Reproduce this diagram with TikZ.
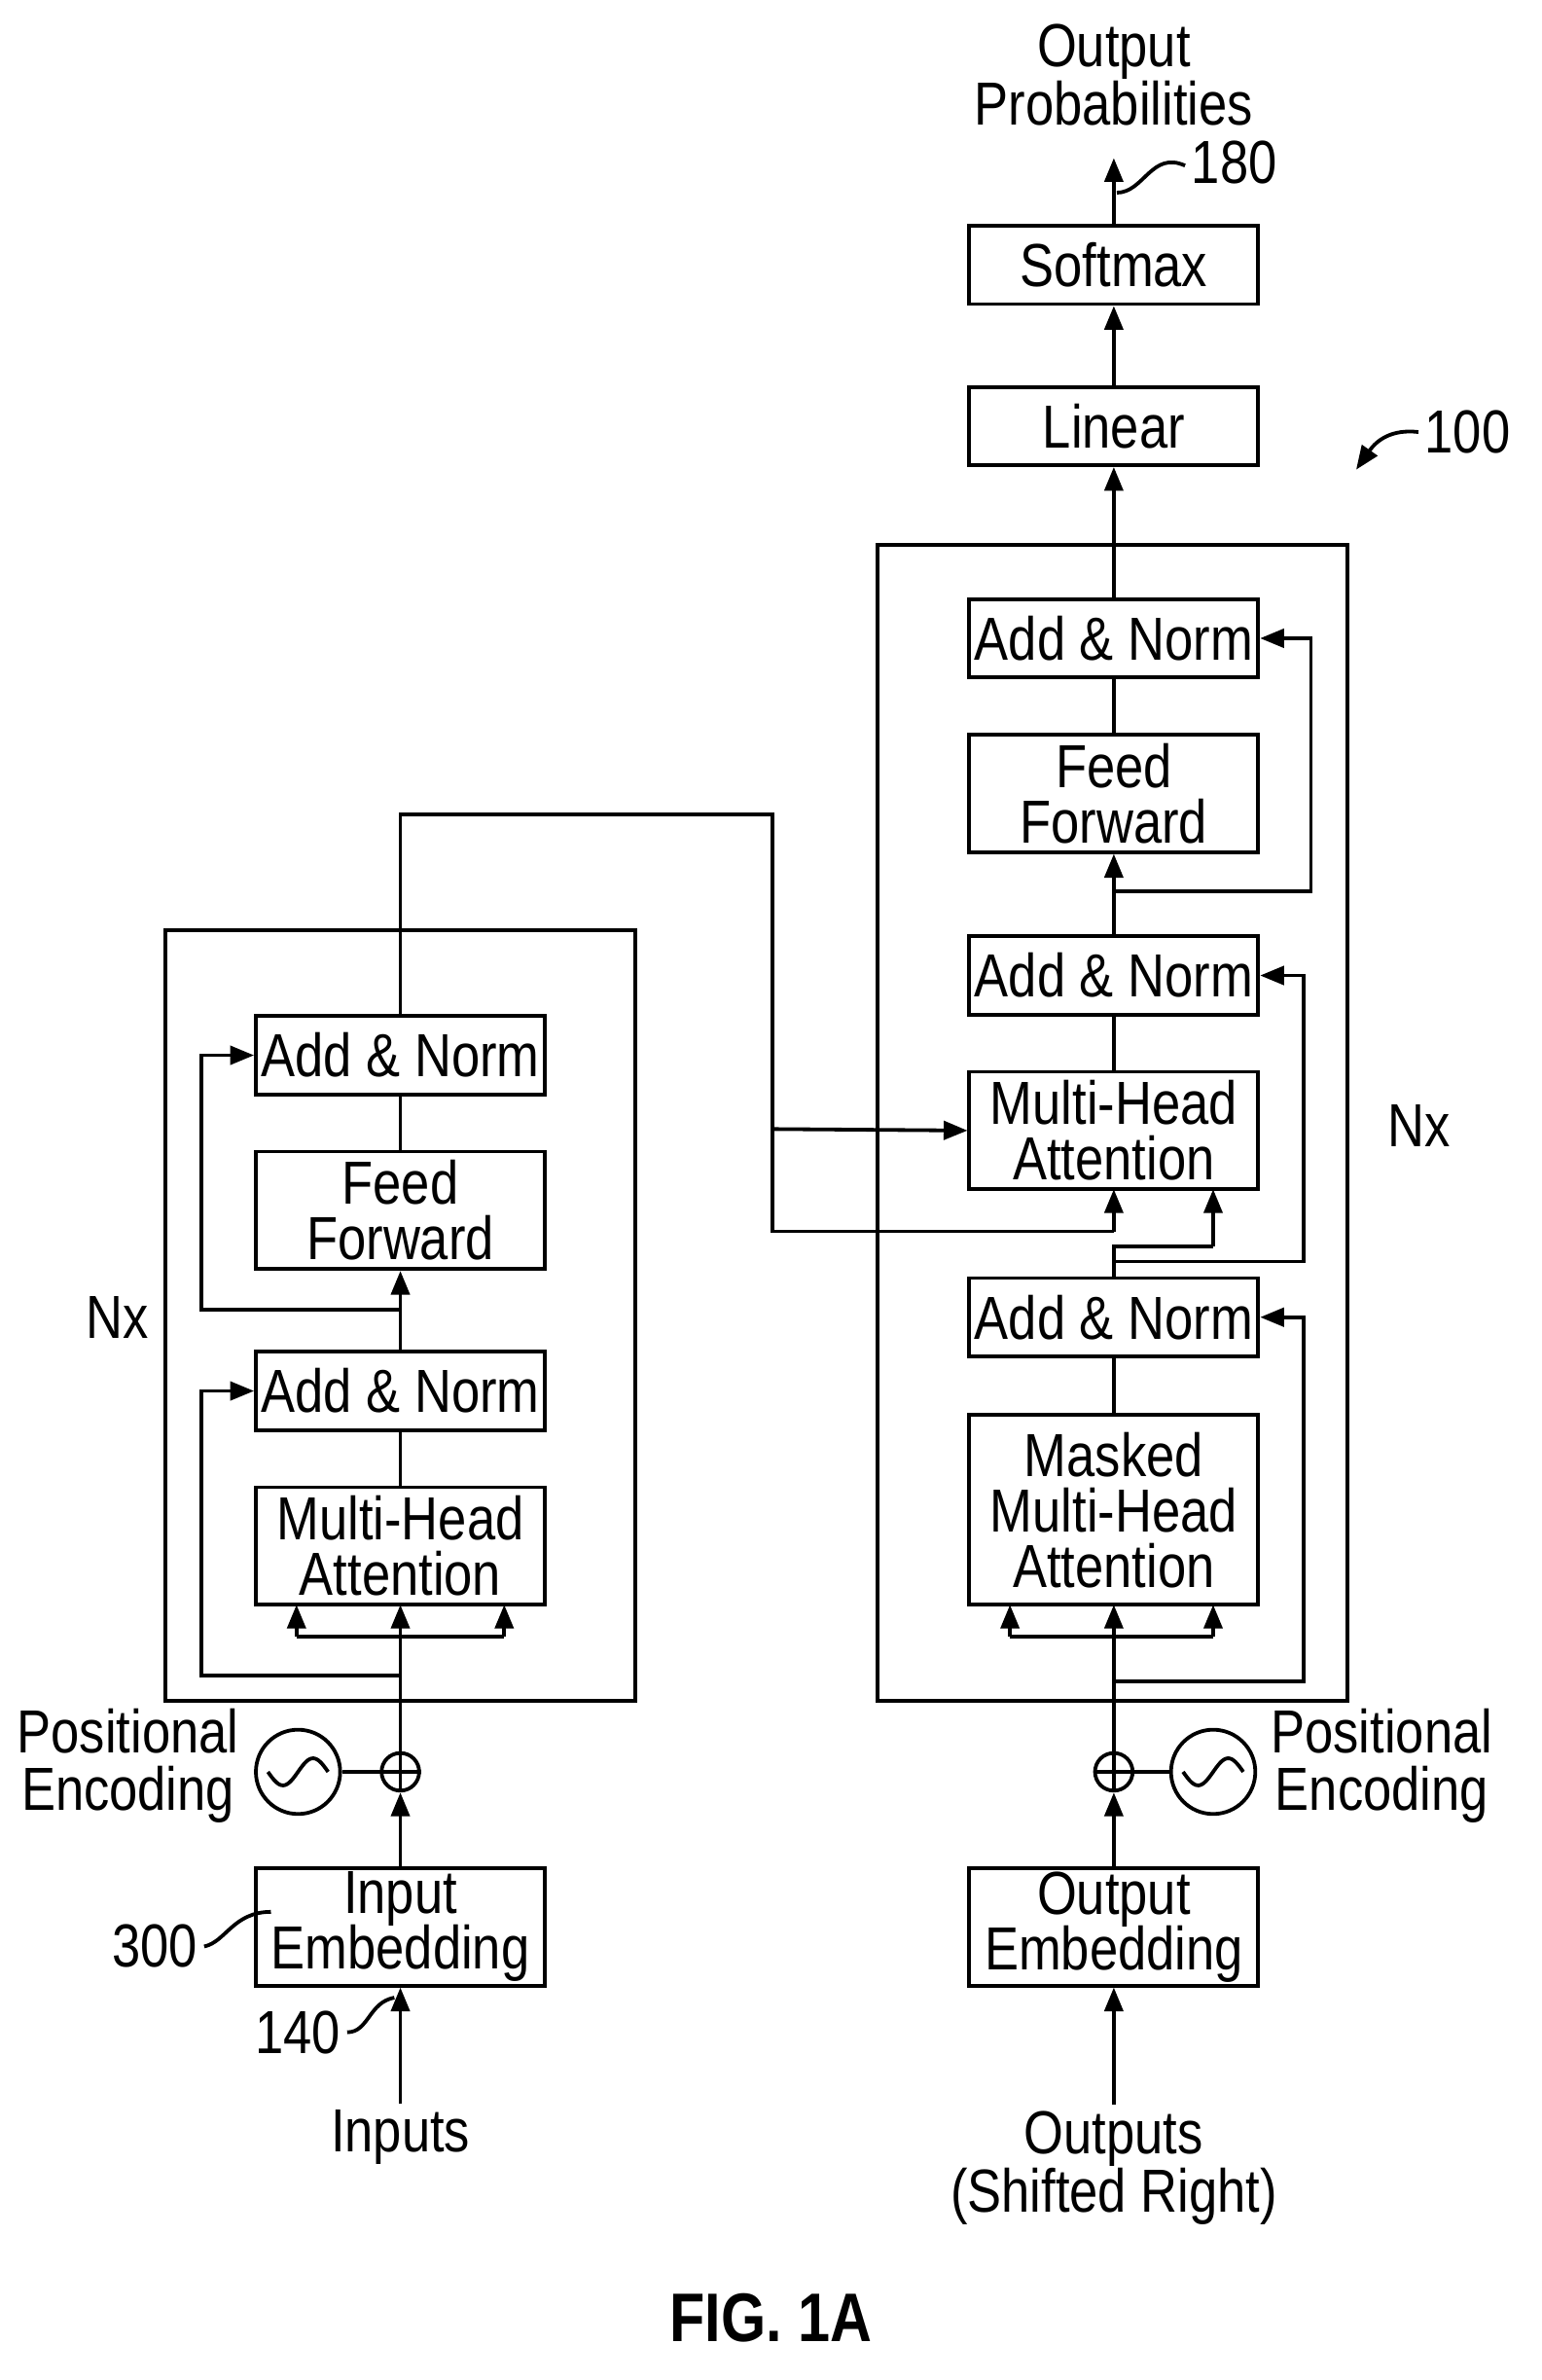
\documentclass[tikz,border=0pt]{standalone}
\usepackage{fontspec}
\setmainfont{Liberation Sans}[FakeStretch=0.84]
\usetikzlibrary{arrows.meta,positioning}

\begin{document}
\begin{tikzpicture}[
    x=0.02cm, y=-0.02cm,
    box/.style={rectangle, draw, line width=1.4pt, minimum width=3.84cm,
                minimum height=1.04cm, align=center, inner sep=0pt,
                font=\fontsize{23}{22}\selectfont},
    tall/.style={box, minimum height=1.56cm},
    taller/.style={box, minimum height=2.52cm},
    arr/.style={-{Triangle[length=9pt,width=7pt]}, line width=1.4pt},
    ln/.style={line width=1.4pt},
    lbl/.style={align=center, font=\fontsize{23}{22}\selectfont},
    every node/.style={inner sep=0pt}
  ]

  % ---- frame ----
  \useasboundingbox (0,0) rectangle (1024,1581);

  % ============ DECODER ============
  \draw[ln] (583,362) rectangle (895,1130);
  \node[box] (soft) at (740,176) {Softmax};
  \node[box] (lin) at (740,283) {Linear};
  \node[box] (dan1) at (740,424) {Add \& Norm};
  \node[tall] (dff) at (740,527) {Feed\\[-1pt]Forward};
  \node[box] (dan2) at (740,648) {Add \& Norm};
  \node[tall] (dmha) at (740,751) {Multi-Head\\[-1pt]Attention};
  \node[box] (dan3) at (740,875) {Add \& Norm};
  \node[taller] (dmask) at (740,1003) {Masked\\[-1pt]Multi-Head\\[-1pt]Attention};
  \node[tall] (oemb) at (740,1280) {Output\\[-1pt]Embedding};
  \node[circle, draw, line width=1.4pt, minimum size=0.5cm] (dadd) at (740,1177) {};
  \draw[ln] (dadd.north) -- (dadd.south) (dadd.west) -- (dadd.east);
  \node[circle, draw, line width=1.4pt, minimum size=1.12cm] (dsin) at (806,1177) {};
  \draw[ln] plot[domain=-20:20, samples=40, smooth] ({806+\x}, {1177-9*sin(9*\x)});
  \draw[ln] (dsin.west) -- (dadd.east);

  \node[lbl] (outp) at (740,50) {Output\\Probabilities};
  \node[lbl] (outs) at (740,1440) {Outputs\\(Shifted Right)};
  \node[lbl] (dpe) at (918,1173) {Positional\\Encoding};
  \node[lbl] (dnx) at (943,748) {Nx};
  \node[lbl] (r180) at (820,108) {180};
  \node[lbl] (r100) at (975,287) {100};

  \draw[arr] (soft.north) -- (740,105);
  \draw[ln] (r180.west) ++(-4,2) .. controls (765,100) and (760,128) .. (742,128);
  \draw[arr] (r100.west) ++(-4,0) .. controls (925,285) and (915,292) .. (901,312);
  \draw[arr] (lin.north) -- (soft.south);
  \draw[arr] (740,362) -- (lin.south);
  \draw[ln] (740,362) -- (dan1.north);
  \draw[ln] (dff.north) -- (dan1.south);
  \draw[arr] (dan2.north) -- (dff.south);
  \draw[arr] (740,592) -- (871,592) -- (871,424) -- (dan1.east);
  \draw[ln] (dmha.north) -- (dan2.south);
  \draw[ln] (dan3.north) -- (740,828) -- (806,828);
  \draw[arr] (806,828) -- (806,790);
  \draw[arr] (740,838) -- (866,838) -- (866,648) -- (dan2.east);
  \draw[ln] (dmask.north) -- (dan3.south);
  \draw[arr] (740,1117) -- (866,1117) -- (866,875) -- (dan3.east);
  \draw[ln] (dadd.north) -- (740,1087);
  \draw[ln] (671,1087) -- (806,1087);
  \foreach \xx in {671,740,806} \draw[arr] (\xx,1087) -- (\xx,1066);
  \draw[arr] (oemb.north) -- (dadd.south);
  \draw[arr] (outs.north) ++(0,-4) -- (oemb.south);

  % ============ ENCODER ============
  \draw[ln] (110,618) rectangle (422,1130);
  \node[box] (ean1) at (266,701) {Add \& Norm};
  \node[tall] (eff) at (266,804) {Feed\\[-1pt]Forward};
  \node[box] (ean2) at (266,924) {Add \& Norm};
  \node[tall] (emha) at (266,1027) {Multi-Head\\[-1pt]Attention};
  \node[tall] (iemb) at (266,1280) {Input\\[-1pt]Embedding};
  \node[circle, draw, line width=1.4pt, minimum size=0.5cm] (eadd) at (266,1177) {};
  \draw[ln] (eadd.north) -- (eadd.south) (eadd.west) -- (eadd.east);
  \node[circle, draw, line width=1.4pt, minimum size=1.12cm] (esin) at (198,1177) {};
  \draw[ln] plot[domain=-20:20, samples=40, smooth] ({198+\x}, {1177-9*sin(9*\x)});
  \draw[ln] (esin.east) -- (eadd.west);

  \node[lbl] (inp) at (266,1420) {Inputs};
  \node[lbl] (epe) at (85,1173) {Positional\\Encoding};
  \node[lbl] (enx) at (78,875) {Nx};
  \node[lbl] (r300) at (103,1293) {300};
  \node[lbl] (r140) at (198,1350) {140};

  \draw[ln] (r300.east) ++(4,0) .. controls (150,1290) and (155,1270) .. (180,1270);
  \draw[ln] (r140.east) ++(4,0) .. controls (245,1350) and (245,1330) .. (262,1327);

  \draw[arr] (inp.north) ++(0,-4) -- (iemb.south);
  \draw[arr] (iemb.north) -- (eadd.south);
  \draw[ln] (eadd.north) -- (266,1087);
  \draw[ln] (197,1087) -- (335,1087);
  \foreach \xx in {197,266,335} \draw[arr] (\xx,1087) -- (\xx,1066);
  \draw[arr] (266,1113) -- (134,1113) -- (134,924) -- (ean2.west);
  \draw[ln] (emha.north) -- (ean2.south);
  \draw[arr] (ean2.north) -- (eff.south);
  \draw[arr] (266,870) -- (134,870) -- (134,701) -- (ean1.west);
  \draw[ln] (eff.north) -- (ean1.south);

  % encoder output into decoder
  \draw[ln] (ean1.north) -- (266,541) -- (513,541) -- (513,818) -- (740,818);
  \draw[arr] (740,818) -- (740,790);
  \draw[arr] (513,750) -- (dmha.west);

  \node[font=\fontsize{26}{28}\selectfont\bfseries] (fig) at (512,1540) {FIG. 1A};
\end{tikzpicture}
\end{document}
